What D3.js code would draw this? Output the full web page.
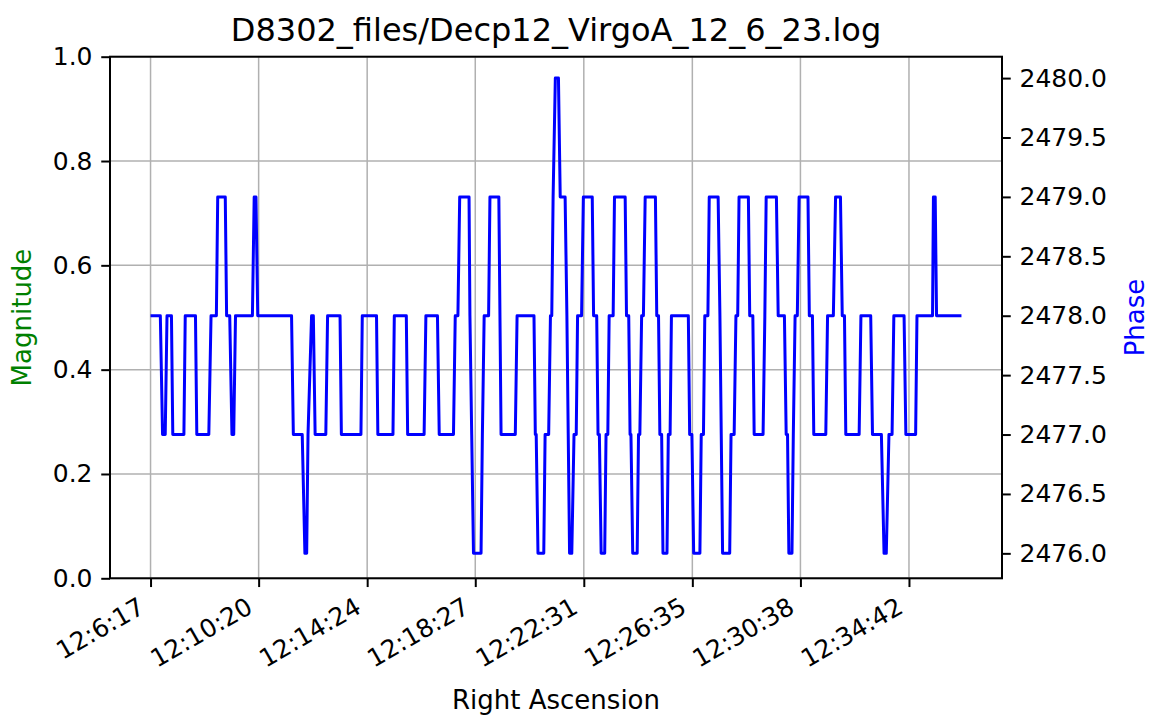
<!DOCTYPE html>
<html><head><meta charset="utf-8">
<script src="https://cdn.jsdelivr.net/npm/d3@7"></script>
<style>body{margin:0;background:#fff} text{font-family:"DejaVu Sans",sans-serif}</style>
</head><body>
<svg id="c" width="1152" height="719"></svg>
<script>
// Tick positions (seconds of RA after 12:6:17) and their labels
const tickSec = [0, 243, 487, 730, 974, 1218, 1461, 1705];
const tickLabels = ["12:6:17","12:10:20","12:14:24","12:18:27","12:22:31","12:26:35","12:30:38","12:34:42"];
const magTicks = [0, 0.2, 0.4, 0.6, 0.8, 1.0];
const phaseTicks = [2476.0, 2476.5, 2477.0, 2477.5, 2478.0, 2478.5, 2479.0, 2479.5, 2480.0];

// Phase series as runs of constant value: start second, end second, phase
const runStart = [0,27,37,50,78,104,136,151,171,183,191,233,241,321,347,354,362,370,398,429,476,511,548,578,619,649,685,695,718,722,726,746,750,763,788,824,865,871,887,899,905,910,921,936,939,942,952,960,973,996,1006,1013,1024,1031,1043,1070,1078,1084,1097,1104,1112,1138,1145,1152,1164,1171,1212,1221,1238,1246,1256,1280,1283,1286,1305,1316,1323,1347,1357,1381,1384,1411,1429,1435,1445,1449,1458,1481,1491,1522,1540,1555,1563,1597,1623,1649,1660,1671,1698,1723,1760,1767];
const runEnd   = [22,33,47,75,101,131,148,168,178,187,229,237,317,341,351,354,366,394,426,473,508,545,575,615,645,681,691,716,718,722,743,746,760,783,820,862,867,884,895,902,905,917,932,936,939,947,957,969,993,1003,1009,1021,1028,1040,1067,1075,1080,1094,1100,1108,1135,1142,1149,1161,1168,1209,1217,1235,1243,1253,1276,1280,1283,1302,1312,1320,1344,1354,1377,1381,1407,1425,1432,1442,1445,1454,1478,1488,1518,1535,1551,1560,1593,1619,1643,1654,1667,1694,1720,1758,1764,1823];
const runPhase = [2478,2477,2478,2477,2478,2477,2478,2479,2478,2477,2478,2479,2478,2477,2476,2477,2478,2477,2478,2477,2478,2477,2478,2477,2478,2477,2478,2479,2478,2477,2476,2477,2478,2479,2477,2478,2477,2476,2477,2478,2479,2480,2479,2478,2477,2476,2477,2478,2479,2478,2477,2476,2477,2478,2479,2478,2477,2476,2477,2478,2479,2478,2477,2476,2477,2478,2477,2476,2477,2478,2479,2478,2477,2476,2477,2478,2479,2478,2477,2478,2479,2478,2477,2476,2477,2478,2479,2478,2477,2478,2479,2478,2477,2478,2477,2476,2477,2478,2477,2478,2479,2478];

const W = 1152, H = 719;
const L = 110, R = 1002, T = 56.7, B = 578.3;
const svg = d3.select("#c");

const dataMin = d3.min(runStart), dataMax = d3.max(runEnd);
const pad = (dataMax - dataMin) * 0.05;
const x = d3.scaleLinear().domain([dataMin - pad, dataMax + pad]).range([L, R]);
const y0 = d3.scaleLinear().domain([0, 1]).range([B, T]);
const y1 = d3.scaleLinear().domain([2475.79, 2480.18]).range([B, T]);

const gridColor = "#b0b0b0";
// grid
svg.append("g").selectAll("line.v").data(tickSec).join("line")
  .attr("x1", d => x(d)).attr("x2", d => x(d)).attr("y1", T).attr("y2", B)
  .attr("stroke", gridColor).attr("stroke-width", 1.5);
svg.append("g").selectAll("line.h").data(magTicks).join("line")
  .attr("x1", L).attr("x2", R).attr("y1", d => y0(d)).attr("y2", d => y0(d))
  .attr("stroke", gridColor).attr("stroke-width", 1.5);

// series
const pts = [];
runStart.forEach((s, i) => { pts.push([s, runPhase[i]]); pts.push([runEnd[i], runPhase[i]]); });
svg.append("path").datum(pts)
  .attr("d", d3.line().x(d => x(d[0])).y(d => y1(d[1])))
  .attr("fill", "none").attr("stroke", "#0000ff").attr("stroke-width", 3)
  .attr("stroke-linejoin", "round");

// axes
const tk = 8.75, tp = 8.75, fs = 25;
const xa = svg.append("g").attr("transform", `translate(0,${B})`)
  .call(d3.axisBottom(x).tickValues(tickSec).tickFormat((d, i) => tickLabels[i]).tickSize(tk).tickSizeOuter(0));
xa.selectAll("text").attr("x", 0).attr("y", 0).attr("dy", null)
  .attr("text-anchor", "end").attr("dominant-baseline", "hanging")
  .attr("transform", `translate(-14,${tk + tp}) rotate(-30)`);

const ya = svg.append("g").attr("transform", `translate(${L},0)`)
  .call(d3.axisLeft(y0).tickValues(magTicks).tickFormat(d3.format(".1f")).tickSize(tk).tickPadding(tp).tickSizeOuter(0));
const yb = svg.append("g").attr("transform", `translate(${R},0)`)
  .call(d3.axisRight(y1).tickValues(phaseTicks).tickFormat(d3.format(".1f")).tickSize(tk).tickPadding(tp).tickSizeOuter(0));
[xa, ya, yb].forEach(g => {
  g.select(".domain").remove();
  g.selectAll(".tick line").attr("stroke", "#000").attr("stroke-width", 2);
  g.selectAll("text").attr("font-size", fs).attr("fill", "#000").attr("font-family", "DejaVu Sans");
});

// spines
svg.append("rect").attr("x", L).attr("y", T).attr("width", R - L).attr("height", B - T)
  .attr("fill", "none").attr("stroke", "#000").attr("stroke-width", 2);

// labels
svg.append("text").attr("x", (L + R) / 2).attr("y", 41).attr("text-anchor", "middle")
  .attr("font-size", 32).text("D8302_files/Decp12_VirgoA_12_6_23.log");
svg.append("text").attr("x", (L + R) / 2).attr("y", 709).attr("text-anchor", "middle")
  .attr("font-size", 26).text("Right Ascension");
svg.append("text").attr("transform", `translate(31,${(T + B) / 2}) rotate(-90)`).attr("text-anchor", "middle")
  .attr("font-size", 26).attr("fill", "#008000").text("Magnitude");
svg.append("text").attr("transform", `translate(1144,${(T + B) / 2}) rotate(-90)`).attr("text-anchor", "middle")
  .attr("font-size", 26).attr("fill", "#0000ff").text("Phase");
</script>
</body></html>
